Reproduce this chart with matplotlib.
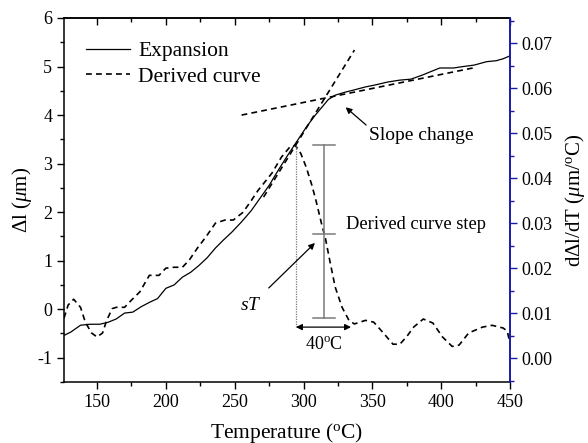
import matplotlib
matplotlib.use("Agg")
import matplotlib.pyplot as plt
from matplotlib.ticker import MultipleLocator

plt.rcParams['font.family'] = ['Liberation Serif', 'DejaVu Serif']
plt.rcParams['mathtext.fontset'] = 'custom'
plt.rcParams['mathtext.rm'] = 'Liberation Serif'
plt.rcParams['mathtext.it'] = 'Liberation Serif:italic'

# Expansion curve (left axis, um)
exp_T = [126, 131, 138, 145, 152, 158, 164, 170, 176, 182, 188, 194, 200, 206, 212, 218,
         224, 230, 236, 242, 248, 255, 262, 268, 275, 282, 288, 295, 302, 308, 313, 318,
         323, 330, 337, 345, 352, 361, 370, 378, 386, 392, 399, 409, 416, 424, 433, 440,
         445, 450]
exp_dl = [-0.54, -0.47, -0.33, -0.31, -0.31, -0.27, -0.20, -0.08, -0.06, 0.05, 0.14, 0.22,
          0.43, 0.50, 0.66, 0.76, 0.90, 1.06, 1.26, 1.43, 1.59, 1.80, 2.03, 2.27, 2.55, 2.88,
          3.15, 3.45, 3.75, 3.98, 4.15, 4.32, 4.41, 4.47, 4.52, 4.58, 4.62, 4.68, 4.72, 4.74,
          4.82, 4.89, 4.97, 4.97, 5.00, 5.03, 5.10, 5.12, 5.16, 5.22]

# Derived curve (right axis, um/C)
der_T = [126, 129, 133, 138, 141.5, 146, 150, 154, 157, 161, 164, 170, 175, 181, 188, 195,
         200, 206, 212, 217, 223, 229, 236, 243, 249, 256, 262, 267, 272, 277, 284, 290,
         294, 298, 302, 306, 309, 313, 316, 319, 323, 328, 333, 337, 341, 345, 351, 358,
         365, 370, 375, 380, 387, 394, 401, 408, 413, 420, 430, 437, 445, 448, 450]
der_d = [0.0089, 0.0118, 0.0131, 0.0113, 0.0080, 0.0056, 0.0047, 0.0056, 0.0084, 0.0110,
         0.0113, 0.0113, 0.0129, 0.0147, 0.0184, 0.0184, 0.0200, 0.0202, 0.0202, 0.0218,
         0.0245, 0.0269, 0.0300, 0.0307, 0.0307, 0.0324, 0.0350, 0.0373, 0.0392, 0.0411,
         0.0447, 0.0469, 0.0473, 0.0455, 0.0424, 0.0385, 0.0351, 0.0300, 0.0265, 0.0218,
         0.0158, 0.0113, 0.0084, 0.0076, 0.0080, 0.0084, 0.0080, 0.0056, 0.0031, 0.0031,
         0.0048, 0.0069, 0.0087, 0.0078, 0.0047, 0.0026, 0.0029, 0.0056, 0.0069, 0.0073,
         0.0067, 0.0060, 0.0033]

# Tangent lines (left axis)
tan_steep_T = [271, 337]
tan_steep_dl = [2.31, 5.34]
tan_shallow_T = [255, 423]
tan_shallow_dl = [4.00, 4.97]

# Derived curve step bar (right axis)
step_T = 314.7
step_low, step_mid, step_high = 0.0089, 0.0276, 0.0473
peak_T = 294.5
span_T = [294.5, 334.5]
span_d = 0.0069

fig = plt.figure(figsize=(5.88, 4.43), dpi=100)
ax = fig.add_axes([64/588, 61/443, 446/588, 364/443])
ax2 = ax.twinx()

dash = (0, (3.5, 2.5))
ax.plot(exp_T, exp_dl, color='black', lw=0.9, label='Expansion')
ax.plot([], [], color='black', lw=1.2, ls=dash, label='Derived curve')
ax.plot(tan_steep_T, tan_steep_dl, color='black', lw=1.2, ls=dash)
ax.plot(tan_shallow_T, tan_shallow_dl, color='black', lw=1.2, ls=dash)

ax2.plot(der_T, der_d, color='black', lw=1.2, ls=dash)

gray = '#7a7a7a'
ax2.plot([step_T, step_T], [step_low, step_high], color=gray, lw=1.1)
for v in (step_low, step_mid, step_high):
    ax2.plot([step_T - 8, step_T + 8], [v, v], color=gray, lw=1.1)
ax2.plot([peak_T, peak_T], [span_d, step_high], color=gray, lw=0.9, ls=(0, (1, 1)))
ax2.annotate('', xy=(span_T[0], span_d), xytext=(span_T[1], span_d),
             arrowprops=dict(arrowstyle='<|-|>', color='black', lw=0.9,
                             mutation_scale=9, shrinkA=0, shrinkB=0))
ax2.text(314.5, 0.0031, r'40$^{\rm o}$C', ha='center', va='center', fontsize=13)
ax2.text(330.5, 0.0296, 'Derived curve step', ha='left', va='center', fontsize=13.3)
ax2.annotate('$sT$', xy=(308.3, 0.0256), xytext=(262, 0.0118),
             ha='center', va='center', fontsize=14,
             arrowprops=dict(arrowstyle='-|>', color='black', lw=0.9,
                             mutation_scale=9, shrinkA=6, shrinkB=0))
ax.annotate('Slope change', xy=(330.6, 4.16), xytext=(347.5, 3.57),
            ha='left', va='center', fontsize=14,
            arrowprops=dict(arrowstyle='-|>', color='black', lw=0.9,
                            mutation_scale=9, shrinkA=0, shrinkB=0, relpos=(0, 1)))

ax.set_xlim(126, 450)
ax.set_ylim(-1.5, 6)
ax2.set_ylim(-0.0053, 0.0756)

ax.xaxis.set_major_locator(MultipleLocator(50))
ax.xaxis.set_minor_locator(MultipleLocator(25))
ax.yaxis.set_major_locator(MultipleLocator(1))
ax.yaxis.set_minor_locator(MultipleLocator(0.5))
ax2.yaxis.set_major_locator(MultipleLocator(0.01))
ax2.yaxis.set_minor_locator(MultipleLocator(0.005))
ax2.yaxis.set_major_formatter(plt.FuncFormatter(lambda v, p: f'{v:.2f}'))
ax.yaxis.set_major_formatter(plt.FuncFormatter(lambda v, p: f'{int(round(v))}'))

ax.tick_params(axis='both', which='major', direction='out', length=5, width=1, labelsize=13)
ax.tick_params(axis='both', which='minor', direction='out', length=3, width=1)
ax.tick_params(axis='x', which='both', top=False)

top = ax.secondary_xaxis('top')
top.xaxis.set_major_locator(MultipleLocator(50))
top.xaxis.set_minor_locator(MultipleLocator(25))
top.tick_params(which='major', direction='in', length=5, width=1, labeltop=False)
top.tick_params(which='minor', direction='in', length=3, width=1)
top.spines['top'].set_linewidth(1.1)

blue = '#1a1aa6'
ax2.tick_params(axis='y', which='major', direction='out', length=5, width=1, color=blue, labelsize=13)
ax2.tick_params(axis='y', which='minor', direction='out', length=3, width=1, color=blue)
for s in ('left', 'bottom', 'top'):
    ax.spines[s].set_linewidth(1.1)
ax2.spines['right'].set_color(blue)
ax2.spines['right'].set_linewidth(1.4)
ax2.spines['left'].set_visible(False)
ax2.spines['top'].set_visible(False)
ax2.spines['bottom'].set_visible(False)
ax.spines['right'].set_visible(False)

ax.set_xlabel(r'Temperature ($^{\rm o}$C)', fontsize=15.5, labelpad=7)
ax.set_ylabel(r'$\Delta$l ($\mu$m)', fontsize=15, labelpad=2)
ax2.set_ylabel(r'd$\Delta$l/dT ($\mu$m/$^{\rm o}$C)', fontsize=15, labelpad=7)

leg = ax.legend(loc='upper left', bbox_to_anchor=(0.029, 0.96), frameon=False,
                fontsize=15.5, handlelength=2.05, handletextpad=0.4, labelspacing=0.25,
                borderaxespad=0)

fig.savefig('out.png', dpi=100)
